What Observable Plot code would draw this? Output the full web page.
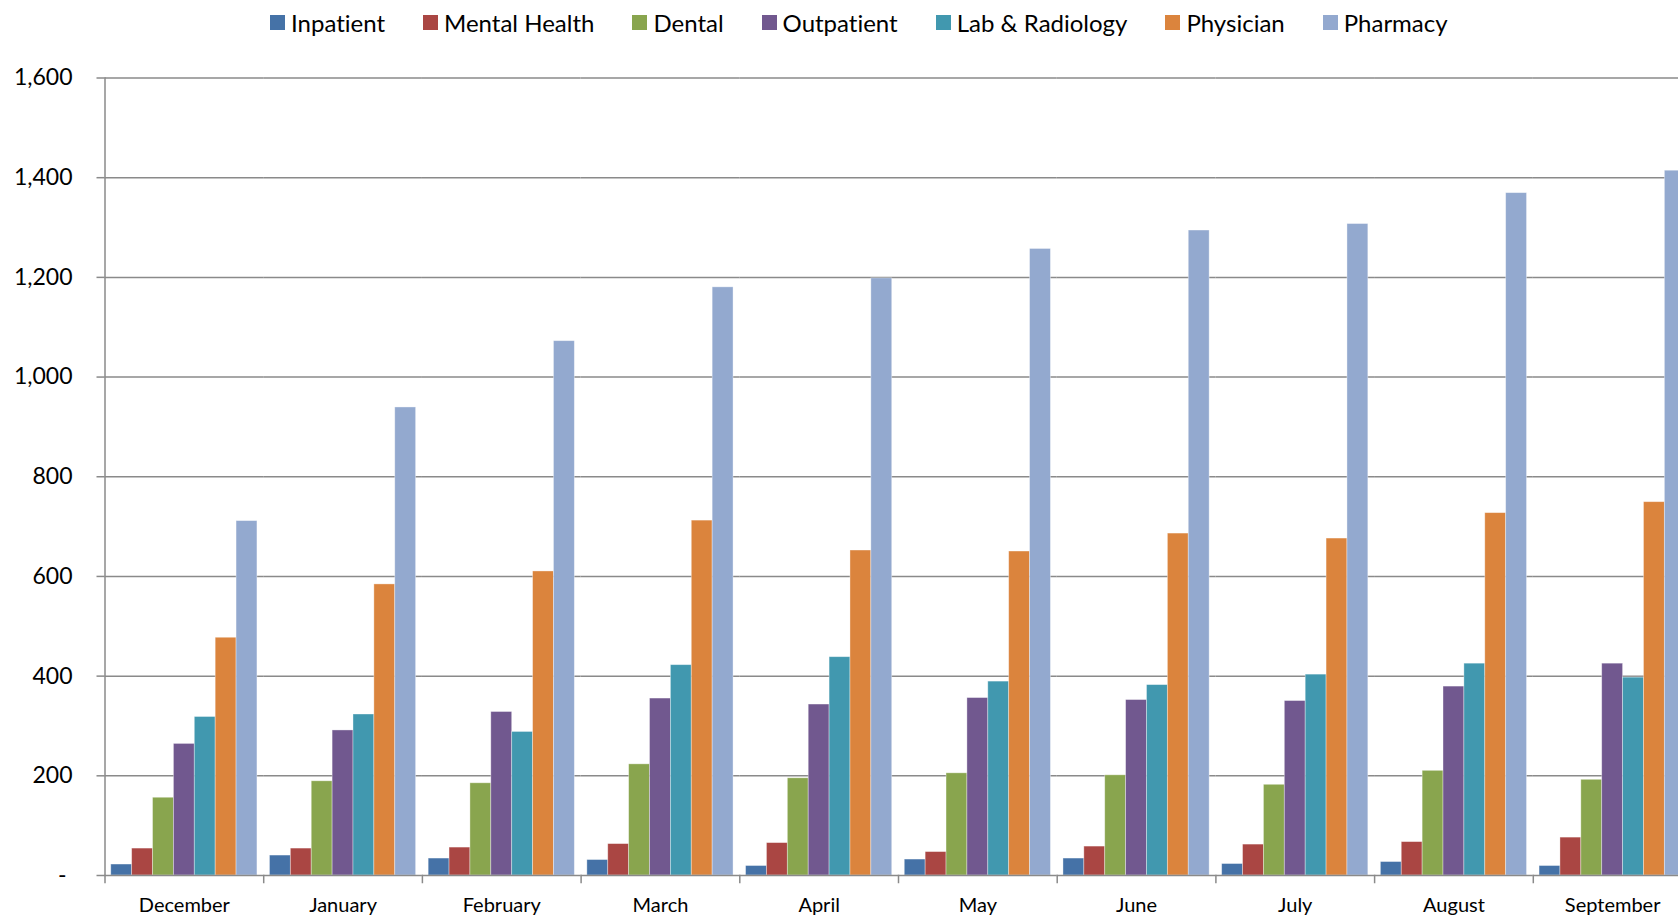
<!DOCTYPE html>
<html>
<head>
<meta charset="utf-8">
<script src="https://cdn.jsdelivr.net/npm/d3@7"></script>
<script src="https://cdn.jsdelivr.net/npm/@observablehq/plot@0.6"></script>
<style>
  html, body { margin: 0; padding: 0; background: #fff; overflow: hidden; }
  #wrap { width: 1678px; height: 916px; overflow: hidden; position: relative; font-family: Lato, "Open Sans", sans-serif; color: #000; font-variant-ligatures: none; }
  #legend { height: 45px; display: flex; align-items: center; padding-left: 270px; box-sizing: border-box; font-size: 24px; }
  .item { display: flex; align-items: center; margin-right: 38px; white-space: nowrap; }
  .swatch { width: 15px; height: 15px; margin-right: 6px; }
  #chart svg { max-width: none; display: block; font-variant-ligatures: none; }
</style>
</head>
<body>
<div id="wrap">
  <div id="legend"></div>
  <div id="chart"></div>
</div>
<script>
// Monthly cost by service category
const months = ["December", "January", "February", "March", "April", "May", "June", "July", "August", "September"];
const series = ["Inpatient", "Mental Health", "Dental", "Outpatient", "Lab & Radiology", "Physician", "Pharmacy"];
const colors = ["#4572A7", "#AA4643", "#89A54E", "#71588F", "#4198AF", "#DB843D", "#93A9CF"];

const inpatient    = [22, 40, 34, 31, 19, 32, 34, 23, 27, 19];
const mentalHealth = [54, 54, 56, 63, 65, 47, 58, 62, 67, 76];
const dental       = [156, 189, 185, 223, 195, 205, 201, 182, 210, 192];
const outpatient   = [264, 291, 328, 355, 343, 356, 352, 350, 379, 425];
const labRadiology = [318, 323, 288, 422, 438, 389, 382, 403, 425, 397];
const physician    = [477, 584, 610, 712, 652, 650, 686, 676, 727, 749];
const pharmacy     = [711, 939, 1072, 1180, 1198, 1257, 1294, 1307, 1369, 1414];

const yTicks = [0, 200, 400, 600, 800, 1000, 1200, 1400, 1600];

const seriesValues = [inpatient, mentalHealth, dental, outpatient, labRadiology, physician, pharmacy];
const rows = series.flatMap((s, i) => months.map((m, j) => ({month: m, series: s, value: seriesValues[i][j]})));

// Legend row above the plot
const legend = document.getElementById("legend");
series.forEach((s, i) => {
  const item = document.createElement("div");
  item.className = "item";
  const sw = document.createElement("span");
  sw.className = "swatch";
  sw.style.background = colors[i];
  const label = document.createElement("span");
  label.textContent = s;
  item.append(sw, label);
  legend.append(item);
});

const gridColor = "#8a8a8a";
const fmt = d3.format(",");

const plotTop = 32.5, plotBottom = 41, plotHeight = 871;
const frameHeight = plotHeight - plotTop - plotBottom;

const chart = Plot.plot({
  width: 1700,
  height: plotHeight,
  marginLeft: 104.5,
  marginRight: 8.5,
  marginTop: plotTop,
  marginBottom: plotBottom,
  style: {fontFamily: "Lato, 'Open Sans', sans-serif", color: "#000", background: "#fff"},
  fx: {domain: months, padding: 0, round: false, label: null},
  x: {domain: series, paddingInner: 0, paddingOuter: 0.3, round: false, axis: null},
  y: {domain: [0, 1600], label: null},
  color: {domain: series, range: colors},
  marks: [
    // horizontal gridlines behind the bars
    Plot.ruleY(yTicks.filter(d => d > 0), {stroke: gridColor, strokeWidth: 1.5}),
    Plot.barY(rows, {
      fx: "month", x: "series", y: "value", fill: "series",
      stroke: "#fff", strokeOpacity: 0.45, strokeWidth: 0.8
    }),
    // category axis baseline
    Plot.ruleY([0], {stroke: gridColor, strokeWidth: 1.5}),
    // value axis line
    Plot.frame({anchor: "left", facetAnchor: "left", stroke: gridColor, strokeWidth: 1.5}),
    // short tick marks between month groups
    Plot.frame({anchor: "left", stroke: gridColor, strokeWidth: 1.5, insetTop: frameHeight, insetBottom: -7}),
    Plot.axisY({
      ticks: yTicks,
      tickFormat: d => d === 0 ? "- " : fmt(d),
      tickSize: 8, tickPadding: 24.5,
      stroke: gridColor, strokeWidth: 1.5, strokeOpacity: 1,
      fontSize: 23, label: null
    }),
    Plot.axisFx({anchor: "bottom", tickSize: 0, tickPadding: 22.5, fontSize: 20, label: null})
  ]
});

document.getElementById("chart").append(chart);
</script>
</body>
</html>
